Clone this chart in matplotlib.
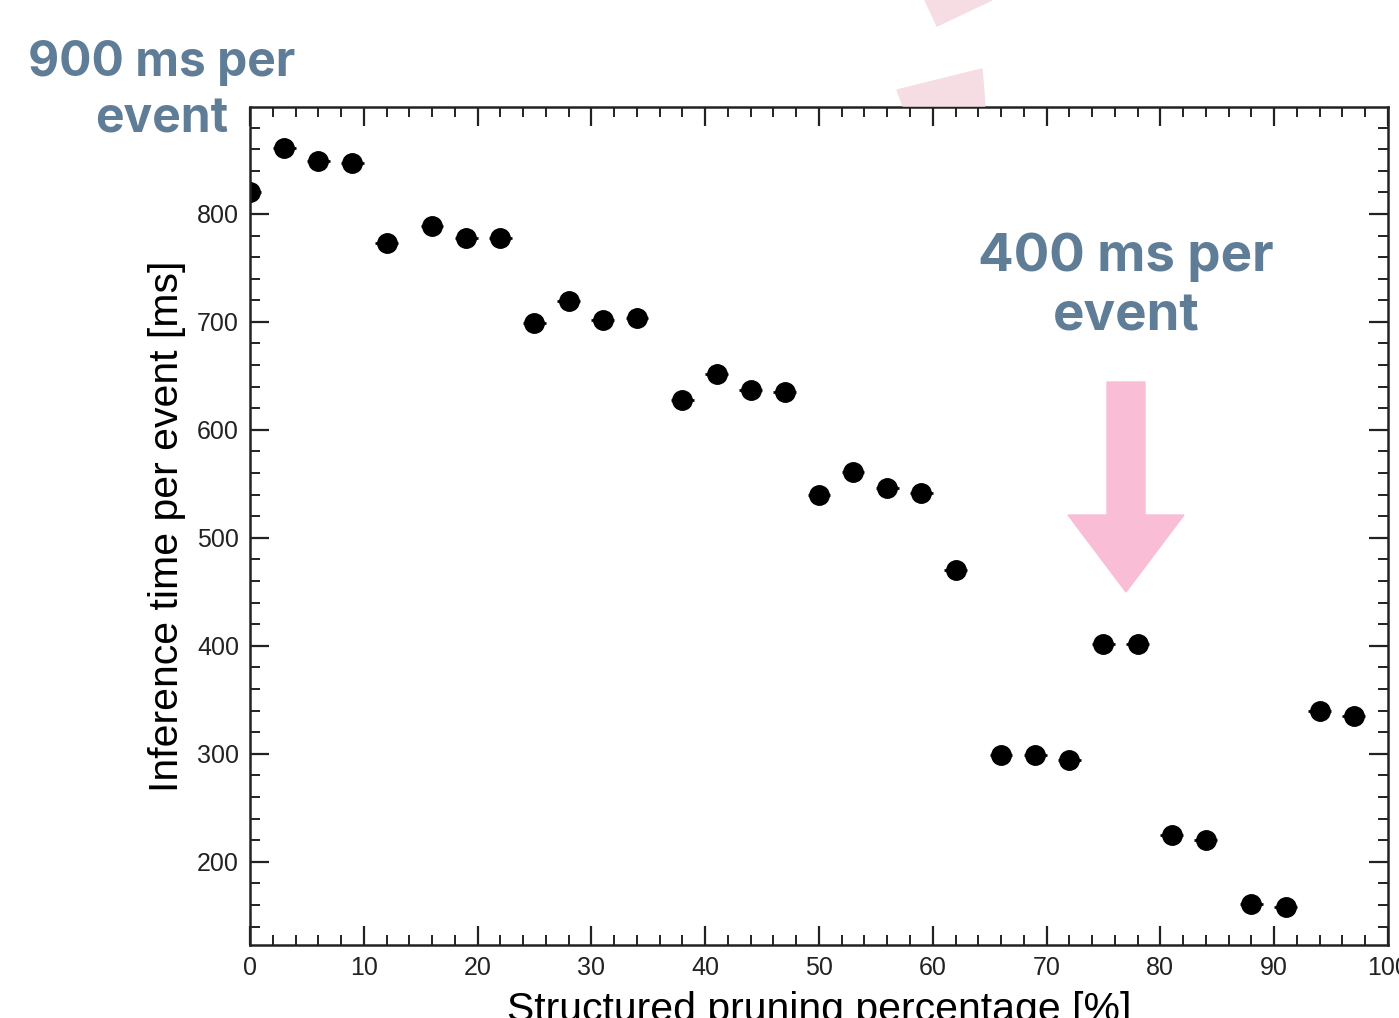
import matplotlib.pyplot as plt
from matplotlib.patches import Polygon
from matplotlib.ticker import MultipleLocator

# pruning percentage and measured inference time
pruning = [0, 3, 6, 9, 12, 16, 19, 22, 25, 28, 31, 34, 38, 41, 44, 47,
           50, 53, 56, 59, 62, 66, 69, 72, 75, 78, 81, 84, 88, 91, 94, 97]
time_ms = [820, 861, 849, 847, 773, 789, 778, 778, 699, 719, 702, 704,
           628, 652, 637, 635, 540, 561, 546, 542, 470, 299, 299, 294,
           402, 402, 225, 220, 161, 158, 340, 335]
xerr = 1.0

label_col = "#5f7d96"
pink = "#f9bdd6"
W, H = 1399, 1018


def px(x, y):
    # figure pixel (from top-left) -> figure fraction
    return [x / W, 1 - y / H]


fig = plt.figure(figsize=(13.99, 10.18), dpi=100)
ax = fig.add_axes([0.1787, 0.0717, 0.8134, 0.8232])

ax.errorbar(pruning, time_ms, xerr=xerr, fmt="o", color="black",
            markersize=14, elinewidth=2, capsize=0)

ax.set_xlim(0, 100)
ax.set_ylim(123, 899)
ax.xaxis.set_major_locator(MultipleLocator(10))
ax.xaxis.set_minor_locator(MultipleLocator(2))
ax.yaxis.set_major_locator(MultipleLocator(100))
ax.yaxis.set_minor_locator(MultipleLocator(20))
ax.tick_params(which="both", direction="in", top=True, right=True,
               labelsize=18, pad=8, colors="#222222")
ax.tick_params(which="major", length=14, width=1.6)
ax.tick_params(which="minor", length=7, width=1.4)
for lab in ax.get_xticklabels() + ax.get_yticklabels():
    lab.set_family("Liberation Sans")
for s in ax.spines.values():
    s.set_linewidth(1.8)
    s.set_color("#222222")

ax.set_xlabel("Structured pruning percentage [%]", fontsize=29.5,
              family="Liberation Sans", labelpad=8)
ax.set_ylabel("Inference time per event [ms]", fontsize=29.5,
              family="Liberation Sans", labelpad=8)

# faint pink shapes peeking above the frame
fig.patches.append(Polygon([px(925, 0), px(937, 26), px(992, 0)],
                           closed=True, transform=fig.transFigure,
                           color="#f5dde3", zorder=0))
fig.patches.append(Polygon([px(897, 90), px(903, 106), px(985, 106), px(982, 69)],
                           closed=True, transform=fig.transFigure,
                           color="#f5dde3", zorder=0))

# pink arrow pointing at the 400 ms points
fig.patches.append(Polygon([px(1107, 382), px(1145, 382), px(1145, 515),
                            px(1184, 515), px(1126, 592), px(1068, 515),
                            px(1107, 515)],
                           closed=True, transform=fig.transFigure,
                           color=pink, zorder=5))

# annotations
fig.text(162 / W, 1 - 91 / H, "900 ms per\nevent", ha="center",
         va="center", fontsize=34.5, fontweight="bold", color=label_col,
         family="Inter", linespacing=1.3)
fig.text(1126 / W, 1 - 287 / H, "400 ms per\nevent", ha="center",
         va="center", fontsize=38, fontweight="bold", color=label_col,
         family="Inter", linespacing=1.3)

plt.savefig("out.png", dpi=100)
